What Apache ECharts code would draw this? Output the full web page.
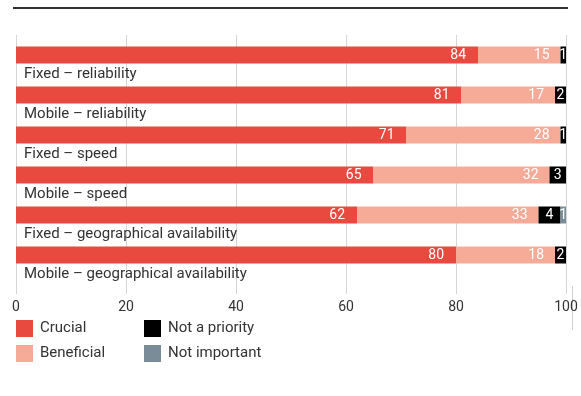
<!DOCTYPE html>
<html>
<head>
<meta charset="utf-8">
<script src="https://cdn.jsdelivr.net/npm/echarts@6/dist/echarts.min.js"></script>
<style>
  html, body { margin: 0; padding: 0; background: #fff; }
  #chart { width: 581px; height: 396px; }
</style>
</head>
<body>
<div id="chart"></div>
<script>
// Importance of connectivity aspects, share of respondents (%)
const categories = [
  'Fixed – reliability',
  'Mobile – reliability',
  'Fixed – speed',
  'Mobile – speed',
  'Fixed – geographical availability',
  'Mobile – geographical availability'
];
const crucial      = [84, 81, 71, 65, 62, 80];
const beneficial   = [15, 17, 28, 32, 33, 18];
const notPriority  = [1, 2, 1, 3, 4, 2];
const notImportant = [0, 0, 0, 0, 1, 0];
const xTicks = [0, 20, 40, 60, 80, 100];

const FONT = 'Roboto';
const TEXT = '#333333';
const GRID = '#d6d6d6';

function stack(name, data, color, position, distance) {
  return {
    name: name,
    type: 'bar',
    stack: 'total',
    data: data,
    barWidth: 17,
    itemStyle: { color: color },
    label: {
      show: true,
      position: position,
      distance: distance,
      color: '#ffffff',
      fontFamily: FONT,
      fontSize: 14,
      formatter: p => (p.value ? String(p.value) : '')
    },
    emphasis: { disabled: true }
  };
}

const legendBase = {
  orient: 'vertical', top: 320, padding: 0,
  itemWidth: 17, itemHeight: 17, itemGap: 8,
  icon: 'rect',
  textStyle: { color: TEXT, fontFamily: FONT, fontSize: 15, padding: [0, 0, 0, 2] },
  selectedMode: false
};

const chart = echarts.init(document.getElementById('chart'), null, { renderer: 'canvas' });
chart.setOption({
  animation: false,
  backgroundColor: '#ffffff',
  grid: { left: 16, right: 15, top: 35, height: 240 },
  xAxis: {
    type: 'value',
    min: xTicks[0],
    max: xTicks[xTicks.length - 1],
    interval: 20,
    axisLine: { show: false },
    axisTick: { show: true, length: 19, lineStyle: { color: GRID } },
    splitLine: { show: true, lineStyle: { color: GRID, width: 1 } },
    axisLabel: { margin: 25, color: TEXT, fontFamily: FONT, fontSize: 14 }
  },
  yAxis: {
    type: 'category',
    data: categories,
    inverse: true,
    axisLine: { show: false },
    axisTick: { show: false },
    axisLabel: {
      inside: true,
      margin: 8,
      verticalAlign: 'top',
      padding: [12, 0, 0, 0],
      color: TEXT,
      fontFamily: FONT,
      fontSize: 15
    }
  },
  legend: [
    Object.assign({ data: ['Crucial', 'Beneficial'], left: 16 }, legendBase),
    Object.assign({ data: ['Not a priority', 'Not important'], left: 144 }, legendBase)
  ],
  graphic: [
    {
      type: 'line',
      shape: { x1: 13, y1: 8, x2: 568, y2: 8 },
      style: { stroke: '#333333', lineWidth: 2 }
    },
    {
      type: 'line',
      shape: { x1: 572.5, y1: 286, x2: 572.5, y2: 330 },
      style: { stroke: '#d0d0d0', lineWidth: 1 }
    }
  ],
  series: [
    stack('Crucial', crucial, '#e94a3f', 'insideRight', 12),
    stack('Beneficial', beneficial, '#f6ab98', 'insideRight', 11),
    stack('Not a priority', notPriority, '#000000', 'inside', 0),
    stack('Not important', notImportant, '#7a8c97', 'inside', 0)
  ]
});
</script>
</body>
</html>
